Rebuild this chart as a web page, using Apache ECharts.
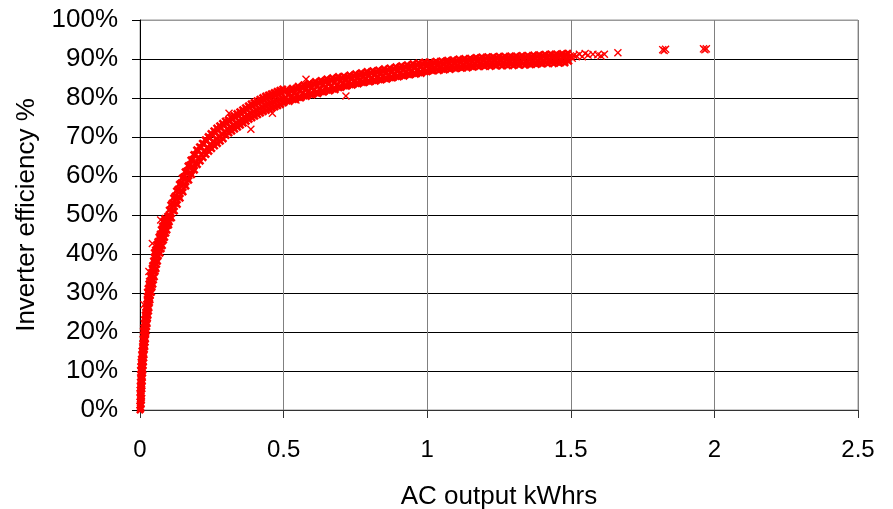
<!DOCTYPE html>
<html>
<head>
<meta charset="utf-8">
<script src="https://cdn.jsdelivr.net/npm/echarts@6/dist/echarts.min.js"></script>
<style>
  html, body { margin: 0; padding: 0; background: #fff; }
  #chart { width: 893px; height: 509px; }
</style>
</head>
<body>
<div id="chart"></div>
<script>
// axis settings
var xMin = 0, xMax = 2.5, xStep = 0.5;
var yMin = 0, yMax = 100, yStep = 10;
var xName = 'AC output kWhrs';
var yName = 'Inverter efficiency %';

// [kWh, efficiency %], low output (steep rise)
var rampPts = [
  [0,0],[0.002,0.6],[0.003,0.3],
  [0.000,1.2],[0.002,1.7],[0.004,1.4],
  [0.000,2.2],[0.002,2.8],[0.005,2.4],
  [0.001,3.3],[0.003,3.7],[0.005,3.1],
  [0.000,4.4],[0.003,4.8],[0.006,4.2],
  [0.001,5.2],[0.004,5.7],[0.006,5.4],
  [0.001,6.3],[0.004,6.8],[0.007,6.1],
  [0.002,7.2],[0.005,7.7],[0.008,7.4],
  [0.002,8.4],[0.005,8.9],[0.008,8.2],
  [0.003,9.2],[0.006,9.6],[0.009,9.4],
  [0.002,10.3],[0.006,10.8],[0.010,10.1],
  [0.003,11.2],[0.007,11.6],[0.011,11.4],
  [0.004,12.4],[0.008,12.9],[0.012,12.2],
  [0.005,13.1],[0.009,13.7],[0.013,13.3],
  [0.006,14.3],[0.010,14.8],[0.014,14.1],
  [0.007,15.2],[0.011,15.6],[0.015,15.5],
  [0.009,16.4],[0.013,16.9],[0.017,16.2],
  [0.010,17.1],[0.014,17.7],[0.018,17.3],
  [0.011,18.3],[0.015,18.8],[0.019,18.1],
  [0.012,19.2],[0.016,19.6],[0.020,19.5],
  [0.012,20.4],[0.017,20.9],[0.022,20.2],
  [0.013,21.1],[0.018,21.7],[0.023,21.3],
  [0.015,22.3],[0.020,22.8],[0.025,22.1],
  [0.016,23.2],[0.021,23.6],[0.026,23.5],
  [0.018,24.4],[0.023,24.9],[0.028,24.2],
  [0.020,25.1],[0.025,25.7],[0.030,25.3],
  [0.021,26.3],[0.026,26.8],[0.031,26.1],
  [0.023,27.2],[0.028,27.6],[0.033,27.5],
  [0.025,28.4],[0.030,28.9],[0.035,28.2],
  [0.026,29.1],[0.031,29.7],[0.036,29.3],
  [0.026,30.3],[0.033,30.8],[0.040,30.1],
  [0.028,31.2],[0.035,31.6],[0.042,31.5],
  [0.031,32.4],[0.038,32.9],[0.045,32.2],
  [0.033,33.1],[0.040,33.7],[0.047,33.3],
  [0.036,34.3],[0.043,34.8],[0.050,34.1],
  [0.039,35.2],[0.046,35.6],[0.053,35.5],
  [0.042,36.4],[0.049,36.9],[0.056,36.2],
  [0.044,37.1],[0.051,37.7],[0.058,37.3],
  [0.047,38.3],[0.054,38.8],[0.061,38.1],
  [0.050,39.2],[0.057,39.6],[0.064,39.5],
  [0.050,40.4],[0.060,40.9],[0.070,40.2],[0.055,40.7],
  [0.054,41.1],[0.064,41.7],[0.074,41.3],[0.069,41.9],
  [0.058,42.3],[0.068,42.8],[0.078,42.1],[0.063,42.6],
  [0.062,43.2],[0.072,43.6],[0.082,43.5],[0.077,43.9],
  [0.066,44.4],[0.076,44.9],[0.086,44.2],[0.071,44.6],
  [0.070,45.1],[0.080,45.7],[0.090,45.3],[0.085,45.9],
  [0.074,46.3],[0.084,46.8],[0.094,46.1],[0.079,46.6],
  [0.078,47.2],[0.088,47.6],[0.098,47.5],[0.093,47.9],
  [0.082,48.4],[0.092,48.9],[0.102,48.2],[0.087,48.6],
  [0.086,49.1],[0.096,49.7],[0.106,49.3],[0.101,49.9]
];

// knee of the curve, 0.10 - 0.50 kWh
var kneePts = [
  [0.100,47.4],[0.102,51.3],[0.105,49.5],[0.107,52.6],
  [0.110,49.2],[0.112,53.1],[0.115,51.2],[0.117,54.4],
  [0.120,51.0],[0.122,54.9],[0.125,53.0],[0.127,56.2],
  [0.130,52.7],[0.132,56.6],[0.135,54.7],[0.137,57.9],
  [0.140,54.3],[0.142,58.2],[0.145,56.3],[0.147,59.5],
  [0.150,55.9],[0.152,59.8],[0.155,57.9],[0.157,61.1],
  [0.160,57.4],[0.162,61.3],[0.165,59.4],[0.167,62.6],
  [0.170,58.9],[0.172,62.8],[0.175,60.9],[0.177,64.1],
  [0.180,60.3],[0.182,64.2],[0.185,62.3],[0.187,65.5],
  [0.190,61.5],[0.192,65.4],[0.195,63.5],[0.197,66.7],
  [0.200,62.9],[0.202,66.4],[0.205,64.7],[0.207,67.5],
  [0.210,63.8],[0.212,67.3],[0.215,65.6],[0.217,68.4],
  [0.220,64.7],[0.222,68.2],[0.225,66.5],[0.227,69.3],
  [0.230,65.5],[0.232,69.0],[0.235,67.3],[0.237,70.1],
  [0.240,66.3],[0.242,69.8],[0.245,68.1],[0.247,70.9],
  [0.250,67.0],[0.252,70.5],[0.255,68.8],[0.257,71.6],
  [0.260,67.7],[0.262,71.2],[0.265,69.5],[0.267,72.3],
  [0.270,68.3],[0.272,71.8],[0.275,70.1],[0.277,72.9],
  [0.280,68.9],[0.282,72.4],[0.285,70.7],[0.287,73.5],
  [0.290,69.5],[0.292,73.0],[0.295,71.3],[0.297,74.1],
  [0.300,70.4],[0.302,73.4],[0.305,72.0],[0.307,74.4],
  [0.310,71.0],[0.312,74.0],[0.315,72.6],[0.317,75.0],
  [0.320,71.5],[0.322,74.5],[0.325,73.1],[0.327,75.5],
  [0.330,72.0],[0.332,75.0],[0.335,73.6],[0.337,76.0],
  [0.340,72.5],[0.342,75.5],[0.345,74.1],[0.347,76.5],
  [0.350,73.0],[0.352,76.0],[0.355,74.6],[0.357,77.0],
  [0.360,73.5],[0.362,76.5],[0.365,75.1],[0.367,77.5],
  [0.370,74.0],[0.372,77.0],[0.375,75.6],[0.377,78.0],
  [0.380,74.5],[0.382,77.5],[0.385,76.1],[0.387,78.5],
  [0.390,74.9],[0.392,77.9],[0.395,76.5],[0.397,78.9],
  [0.400,75.3],[0.402,78.3],[0.405,76.9],[0.407,79.3],
  [0.410,75.7],[0.412,78.7],[0.415,77.3],[0.417,79.7],
  [0.420,76.1],[0.422,79.1],[0.425,77.7],[0.427,80.1],
  [0.430,76.5],[0.432,79.5],[0.435,78.1],[0.437,80.5],
  [0.440,76.8],[0.442,79.8],[0.445,78.4],[0.447,80.8],
  [0.450,77.1],[0.452,80.1],[0.455,78.7],[0.457,81.1],
  [0.460,77.4],[0.462,80.4],[0.465,79.0],[0.467,81.4],
  [0.470,77.7],[0.472,80.7],[0.475,79.3],[0.477,81.7],
  [0.480,78.0],[0.482,81.0],[0.485,79.6],[0.487,82.0],
  [0.490,78.3],[0.492,81.3],[0.495,79.9],[0.497,82.3]
];

// flat part, 0.50 - 1.50 kWh
var plateauPts = [
  [0.500,78.7],[0.503,81.6],[0.507,80.0],[0.510,82.1],[0.513,79.2],[0.517,80.9],
  [0.520,79.1],[0.523,82.0],[0.527,80.4],[0.530,82.5],[0.533,79.6],[0.537,81.3],
  [0.540,79.6],[0.543,82.5],[0.547,80.9],[0.550,83.0],[0.553,80.1],[0.557,81.8],
  [0.560,80.0],[0.563,82.9],[0.567,81.3],[0.570,83.4],[0.573,80.5],[0.577,82.2],
  [0.580,80.4],[0.583,83.3],[0.587,81.7],[0.590,83.8],[0.593,80.9],[0.597,82.6],
  [0.600,80.8],[0.603,83.7],[0.607,82.1],[0.610,84.2],[0.613,81.3],[0.617,83.0],
  [0.620,81.1],[0.623,84.0],[0.627,82.4],[0.630,84.5],[0.633,81.6],[0.637,83.3],
  [0.640,81.5],[0.643,84.4],[0.647,82.8],[0.650,84.9],[0.653,82.0],[0.657,83.7],
  [0.660,81.8],[0.663,84.7],[0.667,83.1],[0.670,85.2],[0.673,82.3],[0.677,84.0],
  [0.680,82.1],[0.683,85.0],[0.687,83.4],[0.690,85.5],[0.693,82.6],[0.697,84.3],
  [0.700,82.7],[0.703,85.1],[0.707,83.8],[0.710,85.6],[0.713,83.1],[0.717,84.5],
  [0.720,83.0],[0.723,85.4],[0.727,84.1],[0.730,85.9],[0.733,83.4],[0.737,84.8],
  [0.740,83.3],[0.743,85.7],[0.747,84.4],[0.750,86.2],[0.753,83.7],[0.757,85.1],
  [0.760,83.6],[0.763,86.0],[0.767,84.7],[0.770,86.5],[0.773,84.0],[0.777,85.4],
  [0.780,83.9],[0.783,86.3],[0.787,85.0],[0.790,86.8],[0.793,84.3],[0.797,85.7],
  [0.800,84.1],[0.803,86.5],[0.807,85.2],[0.810,87.0],[0.813,84.5],[0.817,85.9],
  [0.820,84.3],[0.823,86.7],[0.827,85.4],[0.830,87.2],[0.833,84.7],[0.837,86.1],
  [0.840,84.6],[0.843,87.0],[0.847,85.7],[0.850,87.5],[0.853,85.0],[0.857,86.4],
  [0.860,84.8],[0.863,87.2],[0.867,85.9],[0.870,87.7],[0.873,85.2],[0.877,86.6],
  [0.880,85.1],[0.883,87.5],[0.887,86.2],[0.890,88.0],[0.893,85.5],[0.897,86.9],
  [0.900,85.4],[0.903,87.8],[0.907,86.5],[0.910,88.3],[0.913,85.8],[0.917,87.2],
  [0.920,85.6],[0.923,88.0],[0.927,86.7],[0.930,88.5],[0.933,86.0],[0.937,87.4],
  [0.940,85.9],[0.943,88.3],[0.947,87.0],[0.950,88.8],[0.953,86.3],[0.957,87.7],
  [0.960,86.1],[0.963,88.5],[0.967,87.2],[0.970,89.0],[0.973,86.5],[0.977,87.9],
  [0.980,86.3],[0.983,88.7],[0.987,87.4],[0.990,89.2],[0.993,86.7],[0.997,88.1],
  [1.000,86.7],[1.003,88.8],[1.007,87.6],[1.010,89.2],[1.013,87.1],[1.017,88.3],
  [1.020,86.9],[1.023,89.0],[1.027,87.8],[1.030,89.4],[1.033,87.3],[1.037,88.5],
  [1.040,87.0],[1.043,89.1],[1.047,87.9],[1.050,89.5],[1.053,87.4],[1.057,88.6],
  [1.060,87.2],[1.063,89.3],[1.067,88.1],[1.070,89.7],[1.073,87.6],[1.077,88.8],
  [1.080,87.3],[1.083,89.4],[1.087,88.2],[1.090,89.8],[1.093,87.7],[1.097,88.9],
  [1.100,87.5],[1.103,89.6],[1.107,88.4],[1.110,90.0],[1.113,87.9],[1.117,89.1],
  [1.120,87.6],[1.123,89.7],[1.127,88.5],[1.130,90.1],[1.133,88.0],[1.137,89.2],
  [1.140,87.7],[1.143,89.8],[1.147,88.6],[1.150,90.2],[1.153,88.1],[1.157,89.3],
  [1.160,87.9],[1.163,90.0],[1.167,88.8],[1.170,90.4],[1.173,88.3],[1.177,89.5],
  [1.180,88.0],[1.183,90.1],[1.187,88.9],[1.190,90.5],[1.193,88.4],[1.197,89.6],
  [1.200,88.1],[1.203,90.2],[1.207,89.0],[1.210,90.6],[1.213,88.5],[1.217,89.7],
  [1.220,88.1],[1.223,90.2],[1.227,89.0],[1.230,90.6],[1.233,88.5],[1.237,89.7],
  [1.240,88.2],[1.243,90.3],[1.247,89.1],[1.250,90.7],[1.253,88.6],[1.257,89.8],
  [1.260,88.2],[1.263,90.3],[1.267,89.1],[1.270,90.7],[1.273,88.6],[1.277,89.8],
  [1.280,88.3],[1.283,90.4],[1.287,89.2],[1.290,90.8],[1.293,88.7],[1.297,89.9],
  [1.300,88.3],[1.303,90.4],[1.307,89.2],[1.310,90.8],[1.313,88.7],[1.317,89.9],
  [1.320,88.4],[1.323,90.5],[1.327,89.3],[1.330,90.9],[1.333,88.8],[1.337,90.0],
  [1.340,88.4],[1.343,90.5],[1.347,89.3],[1.350,90.9],[1.353,88.8],[1.357,90.0],
  [1.360,88.5],[1.363,90.6],[1.367,89.4],[1.370,91.0],[1.373,88.9],[1.377,90.1],
  [1.380,88.6],[1.383,90.7],[1.387,89.5],[1.390,91.1],[1.393,89.0],[1.397,90.2],
  [1.400,88.7],[1.403,90.8],[1.407,89.6],[1.410,91.2],[1.413,89.1],[1.417,90.3],
  [1.420,88.8],[1.423,90.9],[1.427,89.7],[1.430,91.3],[1.433,89.2],[1.437,90.4],
  [1.440,88.8],[1.443,90.9],[1.447,89.7],[1.450,91.3],[1.453,89.2],[1.457,90.4],
  [1.460,88.9],[1.463,91.0],[1.467,89.8],[1.470,91.4],[1.473,89.3],[1.477,90.5],
  [1.480,89.0],[1.483,91.1],[1.487,89.9],[1.490,91.5],[1.493,89.4],[1.497,90.6]
];

// sparse points above 1.5 kWh
var tailPts = [
  [1.505,90.2],[1.51,90.9],[1.52,90.8],[1.53,91.2],[1.54,90.6],[1.55,91.4],[1.56,91.0],
  [1.577,91.2],[1.594,91.1],[1.605,90.8],[1.617,91.2],[1.664,91.6],
  [1.82,92.4],[1.825,92.2],[1.83,92.5],[1.962,92.6],[1.967,92.4],[1.972,92.6]
];

// stray points off the main band
var strayPts = [
  [0.014,27.0],[0.031,35.5],[0.043,42.7],[0.072,48.7],
  [0.31,76.1],[0.386,72.0],[0.461,76.1],[0.543,79.5],[0.578,84.8],[0.717,80.5]
];

var bandPts = rampPts.concat(kneePts, plateauPts);
var loosePts = tailPts.concat(strayPts);

// x marker: heavy arms for the dense band, thin arms for single points
var crossBold = 'path://M0,2.3L2.3,0L5,2.7L7.7,0L10,2.3L7.3,5L10,7.7L7.7,10L5,7.3L2.3,10L0,7.7L2.7,5Z';
var crossThin = 'path://M0,1.2L1.2,0L5,3.8L8.8,0L10,1.2L6.2,5L10,8.8L8.8,10L5,6.2L1.2,10L0,8.8L3.8,5Z';

var ySplitColors = [];
for (var i = 0; i <= (yMax - yMin) / yStep; i++) {
  ySplitColors.push(i === (yMax - yMin) / yStep ? '#999' : '#000');
}

var chart = echarts.init(document.getElementById('chart'));
var option = {
  animation: false,
  backgroundColor: '#fff',
  textStyle: { fontFamily: 'Liberation Sans, Arial, sans-serif', color: '#000' },
  grid: {
    left: 140, right: 35, top: 20, bottom: 99,
    containLabel: false, outerBoundsMode: 'none',
    show: true, borderColor: '#999', borderWidth: 1, backgroundColor: 'transparent'
  },
  xAxis: {
    type: 'value', min: xMin, max: xMax, interval: xStep,
    name: xName, nameLocation: 'middle', nameGap: 74,
    nameTextStyle: { fontSize: 26, color: '#000' },
    axisLine: { show: true, lineStyle: { color: '#333', width: 1 } },
    axisTick: { show: true, length: 8, lineStyle: { color: '#333' } },
    axisLabel: { fontSize: 24, color: '#000', margin: 28 },
    splitLine: { show: true, lineStyle: { color: '#808080', width: 1 } }
  },
  yAxis: {
    type: 'value', min: yMin, max: yMax, interval: yStep,
    name: yName, nameLocation: 'middle', nameGap: 100,
    nameTextStyle: { fontSize: 26, color: '#000' },
    axisLine: { show: true, lineStyle: { color: '#000', width: 1 } },
    axisTick: { show: true, length: 8, lineStyle: { color: '#000' } },
    axisLabel: { fontSize: 26, color: '#000', margin: 22, formatter: '{value}%' },
    splitLine: { show: true, lineStyle: { color: ySplitColors, width: 1 } }
  },
  series: [{
    type: 'scatter',
    data: bandPts,
    symbol: crossBold,
    symbolSize: 8,
    itemStyle: { color: '#ff0000', opacity: 1 },
    large: false
  }, {
    type: 'scatter',
    data: loosePts,
    symbol: crossThin,
    symbolSize: 8,
    itemStyle: { color: '#ff0000', opacity: 1 },
    large: false
  }]
};
chart.setOption(option);
</script>
</body>
</html>
